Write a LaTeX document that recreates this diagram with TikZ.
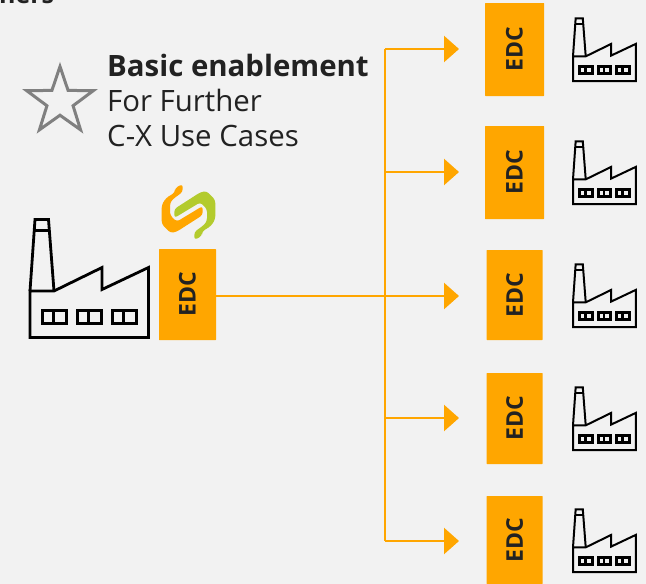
\documentclass[tikz,border=0pt]{standalone}
\usepackage{fontspec}
\setmainfont{Open Sans}
\usetikzlibrary{arrows.meta,shapes.geometric}
\definecolor{edcorange}{HTML}{FFA600}
\definecolor{logogreen}{HTML}{B3CB2D}
\definecolor{pagegray}{HTML}{F2F2F2}
\definecolor{inkgray}{HTML}{222222}
\tikzset{
  edcbox/.style={fill=edcorange,rounded corners=0.5pt,rotate=90,align=center,
    inner sep=0pt,text=inkgray,font=\fontsize{23}{23}\selectfont\bfseries},
  link/.style={draw=edcorange,line width=2.5pt},
  linkarrow/.style={link,-{Triangle[length=15pt,width=26pt]}},
  factorywin/.style={},
  factory/.pic={
    % origin is the lower left corner of the building
    \draw[miter limit=10] (0,0) -- (0,-46.5) -- (24,-46.5) -- (72,-70) -- (72,-48)
      -- (118.5,-70) -- (118.5,0) -- cycle;
    \draw (0,-46.5) -- (5,-118) -- (18.5,-118) -- (24,-46.5);
    \draw (4,-107) -- (20,-107);
    \foreach \wx in {12.5,47.5,82.5}{
      \draw[factorywin] (\wx,-14) rectangle ++(24,-13);
      \draw[factorywin] (\wx+11,-14) -- ++(0,-13);
    }
  },
  logohalf/.pic={
    % one arm of the logo, the other one is the same turned round
    \fill[rounded corners=3pt] (-5.8,-28) -- (-5.8,-20) -- (-15.5,-13) -- (-18.5,-9) -- (-18.5,3)
      -- (-11.8,9.7) -- (14.2,-6) -- (14.2,3) -- (-11.8,19.7) -- (-18,21) -- (-26.8,12)
      -- (-26.8,-7) -- (-22.5,-14) -- (-13.5,-19.5) -- (-13.5,-24) -- cycle;
  }
}
\begin{document}
\begin{tikzpicture}[x=1pt,y=-1pt]
    \useasboundingbox[fill=pagegray] (0,0) rectangle (646,584);
    % clipped title at the top
    \node[anchor=base west,inner sep=0pt,text=inkgray,font=\fontsize{25}{25}\selectfont\bfseries] (title) at (-1,3) {ners};
    % star and its text
    \node[star,star points=5,star point ratio=2.55,draw=black!50,line width=3pt,
      minimum size=70pt,inner sep=0pt] (star) at (60,101.5) {};
    \node[anchor=base west,inner sep=0pt,text=inkgray,font=\fontsize{29.4}{29.4}\selectfont\bfseries] (basic) at (107,76) {Basic enablement};
    \node[anchor=base west,inner sep=0pt,text=inkgray,font=\fontsize{29.4}{29.4}\selectfont] (further) at (107,111) {For Further};
    \node[anchor=base west,inner sep=0pt,text=inkgray,font=\fontsize{29.4}{29.4}\selectfont] (usecases) at (107,146) {C-X Use Cases};
    % logo
    \pic[edcorange] at (188.5,212) {logohalf};
    \pic[logogreen,rotate=180] at (188.5,212) {logohalf};
    % big factory with its connector
    \node[edcbox,minimum width=91pt,minimum height=57pt] (edcmain) at (187.5,294.5) {EDC};
    \pic[line width=2.8pt] at (30,337.5) {factory};
    \coordinate (hub) at (385,296);
    \draw[link] (hub -| edcmain.south) -- (hub);
    % small factories
    \foreach \nm/\cx/\cy/\ay/\bw/\bh/\fy in {a/514.5/49.5/49/59/93/81,b/514.5/172.5/172/59/93/204,
        c/514.7/295/296/56/90/327,d/514.7/418.5/418/56/91/450,e/514.7/540/541/56/88/572}{
      \node[edcbox,minimum width=\bh pt,minimum height=\bw pt] (edc\nm) at (\cx,\cy) {EDC};
      \pic[scale=0.53,line width=2pt,factorywin/.style={line width=2.8pt}] at (573,\fy) {factory};
      \coordinate (end\nm) at (459,\ay);
      \draw[linkarrow] (hub |- end\nm) -- (end\nm);
    }
    \draw[link] (hub |- enda) -- (hub |- ende);
\end{tikzpicture}
\end{document}
